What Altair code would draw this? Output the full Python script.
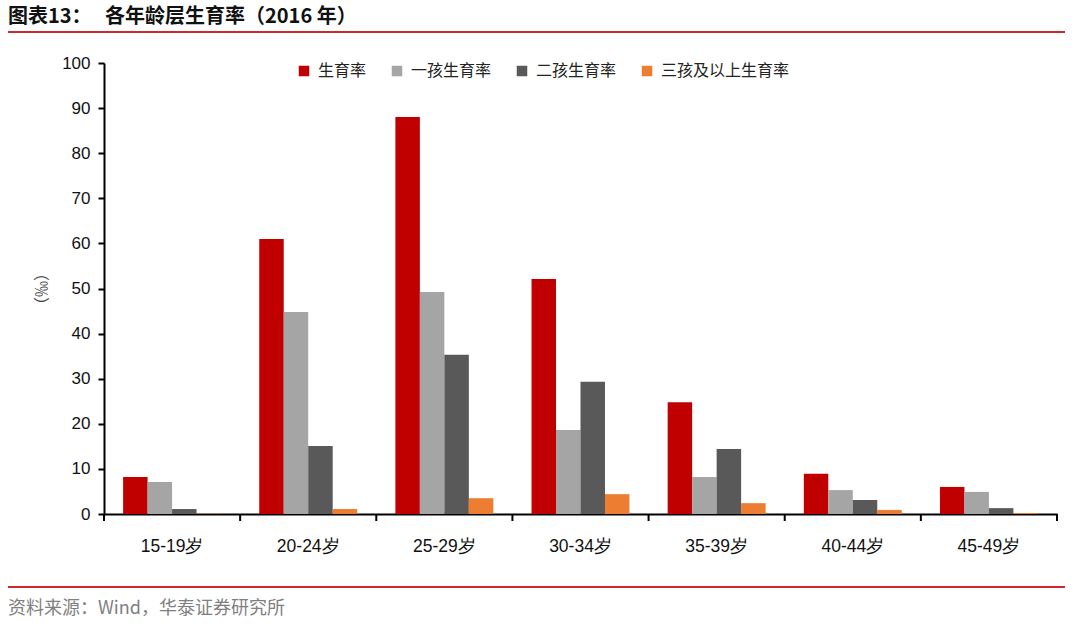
import altair as alt
import pandas as pd

categories = ["15-19岁", "20-24岁", "25-29岁", "30-34岁", "35-39岁", "40-44岁", "45-49岁"]
series = ["生育率", "一孩生育率", "二孩生育率", "三孩及以上生育率"]
total = [8.2, 61.0, 88.0, 52.1, 24.8, 8.9, 6.0]
first = [7.1, 44.8, 49.2, 18.6, 8.2, 5.3, 4.9]
second = [1.1, 15.1, 35.3, 29.3, 14.4, 3.1, 1.3]
third = [0.05, 1.1, 3.5, 4.4, 2.4, 0.9, 0.2]
colors = ["#C00000", "#A5A5A5", "#595959", "#ED7D31"]

rows = []
for s, vals in zip(series, [total, first, second, third]):
    for c, v in zip(categories, vals):
        rows.append({"cat": c, "series": s, "value": v})
df = pd.DataFrame(rows)
cat_df = pd.DataFrame({"cat": categories})
one = pd.DataFrame({"a": [0]})

W, H = 953, 451
FONT = "Liberation Sans"
CJK = "Noto Sans CJK SC"

xscale = alt.Scale(domain=categories, paddingInner=0, paddingOuter=0)

bars = alt.Chart(df).mark_bar().encode(
    x=alt.X("cat:N", scale=xscale, sort=categories,
            axis=alt.Axis(title=None, labelAngle=0, ticks=False, labelPadding=23,
                          labelFont=FONT, labelFontSize=17.5, labelColor="#111111",
                          domainColor="#000000", domainWidth=2)),
    xOffset=alt.XOffset("series:N", sort=series,
                        scale=alt.Scale(domain=series, paddingInner=0, paddingOuter=0.78)),
    y=alt.Y("value:Q", scale=alt.Scale(domain=[0, 100], nice=False),
            axis=alt.Axis(title="（‰）", values=list(range(0, 101, 10)), grid=False,
                          tickColor="#000000", tickWidth=2, tickSize=6,
                          domainColor="#000000", domainWidth=2,
                          labelFont=FONT, labelFontSize=17, labelColor="#111111",
                          labelPadding=8,
                          titleFont=CJK, titleFontSize=16, titleColor="#444444",
                          titleFontWeight="normal", titlePadding=12)),
    color=alt.Color("series:N", sort=series,
                    scale=alt.Scale(domain=series, range=colors),
                    legend=alt.Legend(title=None, orient="none", direction="horizontal",
                                      legendX=192, legendY=0, symbolType="square",
                                      symbolSize=110, symbolStrokeWidth=0,
                                      labelFont=CJK, labelFontSize=16, labelColor="#222222",
                                      columnPadding=22, symbolOffset=0, labelOffset=6)),
)

ticks0 = alt.Chart(cat_df).mark_rule(color="#000000", strokeWidth=2).encode(
    x=alt.X("cat:N", bandPosition=0, scale=xscale, sort=categories),
    y=alt.value(H), y2=alt.value(H + 7),
)
ticks1 = alt.Chart(pd.DataFrame({"cat": [categories[-1]]})).mark_rule(color="#000000", strokeWidth=2).encode(
    x=alt.X("cat:N", bandPosition=1, scale=xscale, sort=categories),
    y=alt.value(H), y2=alt.value(H + 7),
)

title_a = alt.Chart(one).mark_text(align="left", baseline="middle", font=CJK,
                                   fontSize=20, fontWeight="bold", color="#111111").encode(
    x=alt.value(-96), y=alt.value(-46), text=alt.value("图表13："))
title_b = alt.Chart(one).mark_text(align="left", baseline="middle", font=CJK,
                                   fontSize=20, fontWeight="bold", color="#111111").encode(
    x=alt.value(1), y=alt.value(-46), text=alt.value("各年龄层生育率（2016 年）"))
line_top = alt.Chart(one).mark_rule(color="#D0282E", strokeWidth=2).encode(
    x=alt.value(-96), x2=alt.value(961), y=alt.value(-31))
line_bot = alt.Chart(one).mark_rule(color="#D0282E", strokeWidth=2).encode(
    x=alt.value(-96), x2=alt.value(961), y=alt.value(524))
source = alt.Chart(one).mark_text(align="left", baseline="middle", font=CJK,
                                  fontSize=18, color="#7F7F7F").encode(
    x=alt.value(-96), y=alt.value(546), text=alt.value("资料来源：Wind，华泰证券研究所"))

chart = alt.layer(bars, ticks0, ticks1, title_a, title_b, line_top, line_bot, source).properties(
    width=W, height=H,
    autosize=alt.AutoSizeParams(type="none"),
    padding={"left": 104, "top": 63, "right": 23, "bottom": 118},
    background="white",
).configure_view(stroke=None)

chart.save("out.html", embed_options={"renderer": "svg", "actions": False})
